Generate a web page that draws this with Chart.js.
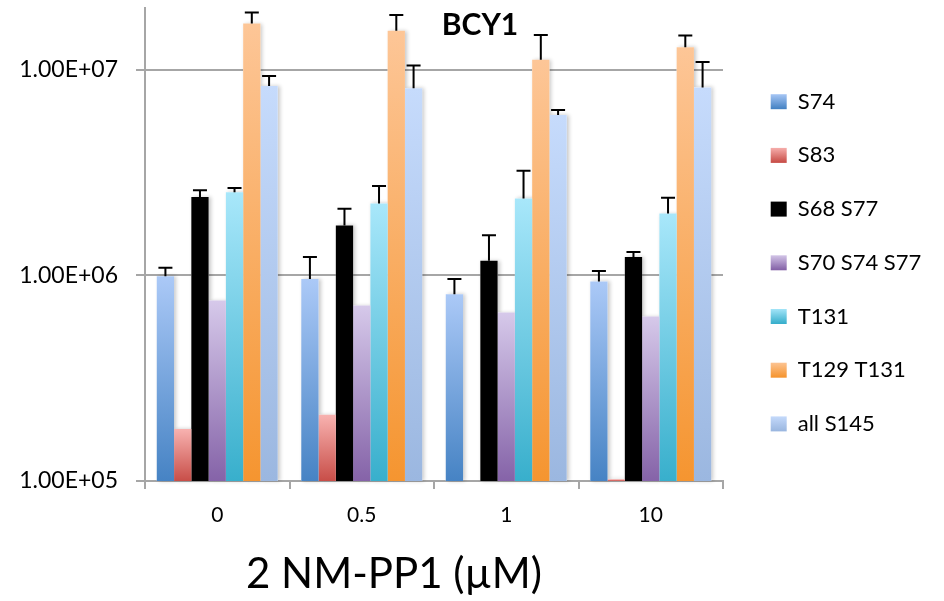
<!DOCTYPE html>
<html>
<head>
<meta charset="utf-8">
<script src="https://cdn.jsdelivr.net/npm/chart.js@4"></script>
<style>
  html, body { margin: 0; padding: 0; background: #fff; }
  #wrap { width: 944px; height: 601px; }
</style>
</head>
<body>
<div id="wrap"><canvas id="chart" width="944" height="601"></canvas></div>
<script>
const doses = ["0", "0.5", "1", "10"];
const seriesNames = ["S74", "S83", "S68 S77", "S70 S74 S77", "T131", "T129 T131", "all S145"];

// mean signal per dose
const s74 = [9.9e5, 9.6e5, 8.1e5, 9.35e5];
const s83 = [1.79e5, 2.1e5, null, 1.02e5];
const s68s77 = [2.41e6, 1.75e6, 1.18e6, 1.23e6];
const s70s74s77 = [7.55e5, 7.14e5, 6.6e5, 6.31e5];
const t131 = [2.54e6, 2.24e6, 2.37e6, 2.0e6];
const t129t131 = [1.68e7, 1.55e7, 1.12e7, 1.29e7];
const allS145 = [8.35e6, 8.15e6, 6.03e6, 8.22e6];

// upper error (added on top of the bar)
const s74Err = [1.0e5, 2.7e5, 1.5e5, 1.15e5];
const s83Err = [null, null, null, null];
const s68s77Err = [1.9e5, 3.6e5, 3.9e5, 7e4];
const s70s74s77Err = [null, null, null, null];
const t131Err = [1.2e5, 4.8e5, 8.6e5, 3.9e5];
const t129t131Err = [2.2e6, 3.0e6, 3.6e6, 1.8e6];
const allS145Err = [1.0e6, 2.35e6, 3.5e5, 2.7e6];

const yTickValues = [1e5, 1e6, 1e7];
const yTickLabels = ["1.00E+05", "1.00E+06", "1.00E+07"];

const values = [s74, s83, s68s77, s70s74s77, t131, t129t131, allS145];
const errors = [s74Err, s83Err, s68s77Err, s70s74s77Err, t131Err, t129t131Err, allS145Err];
const colorsTop = ["#abc9f7", "#f8b2b0", "#000000", "#d6c9ea", "#a8e7fa", "#fdc697", "#c6dbfc"];
const colorsBottom = ["#4683c4", "#c84e48", "#000000", "#8563a8", "#38afcc", "#f59530", "#9bb7e0"];
const colorsMid = ["#78a6de", "#e0807c", "#000000", "#ad96c9", "#70cbe3", "#f9ad63", "#b0c9ee"];

function barFill(i) {
  return function (ctx) {
    const chart = ctx.chart;
    const area = chart.chartArea;
    if (!area || ctx.type !== "data" || ctx.raw == null || i === 2) return colorsMid[i];
    const top = chart.scales.y.getPixelForValue(ctx.raw);
    if (!isFinite(top) || top >= area.bottom) return colorsMid[i];
    const g = chart.ctx.createLinearGradient(0, top, 0, area.bottom);
    g.addColorStop(0, colorsTop[i]);
    g.addColorStop(1, colorsBottom[i]);
    return g;
  };
}

const datasets = seriesNames.map((name, i) => ({
  label: name,
  data: values[i],
  backgroundColor: barFill(i),
  borderWidth: 0,
  categoryPercentage: 0.837,
  barPercentage: 1
}));

const FONT = "Lato, 'Open Sans', sans-serif";
const LEG_ROW = 53.7;

const extras = {
  id: "extras",
  beforeLayout(chart) {
    const lg = chart.legend;
    if (lg && !lg._fixed) {
      const fit = lg.fit;
      lg.fit = function () { fit.call(this); this.width = 205; };
      lg._fixed = true;
    }
  },
  // soft drop shadow behind the bars, like the old Excel style
  beforeDatasetsDraw(chart) {
    const ctx = chart.ctx;
    ctx.save();
    ctx.fillStyle = "#fff";
    ctx.shadowColor = "rgba(0,0,0,0.22)";
    ctx.shadowBlur = 4;
    ctx.shadowOffsetX = 2;
    ctx.shadowOffsetY = 0;
    chart.data.datasets.forEach((ds, i) => {
      chart.getDatasetMeta(i).data.forEach((bar, j) => {
        if (values[i][j] == null) return;
        const { x, y, base, width } = bar.getProps(["x", "y", "base", "width"], true);
        if (base - y < 1) return;
        ctx.fillRect(x - width / 2, y, width, base - y);
      });
    });
    ctx.restore();
  },
  afterDatasetsDraw(chart) {
    const ctx = chart.ctx;
    const y = chart.scales.y;
    ctx.save();
    ctx.strokeStyle = "#000";
    ctx.lineWidth = 2;
    errors.forEach((errs, i) => {
      const meta = chart.getDatasetMeta(i);
      meta.data.forEach((bar, j) => {
        const e = errs[j];
        const v = values[i][j];
        if (e == null || v == null) return;
        const yt = y.getPixelForValue(v + e);
        ctx.beginPath();
        ctx.moveTo(bar.x, bar.y);
        ctx.lineTo(bar.x, yt);
        ctx.moveTo(bar.x - 7, yt);
        ctx.lineTo(bar.x + 7, yt);
        ctx.stroke();
      });
    });
    ctx.restore();
  },
  afterDraw(chart) {
    const ctx = chart.ctx;
    ctx.save();
    ctx.fillStyle = "#000";
    ctx.textAlign = "center";
    ctx.textBaseline = "alphabetic";
    ctx.font = "bold 30px " + FONT;
    ctx.fillText("BCY1", 480, 35);
    ctx.font = "42px " + FONT;
    ctx.fillText("2 NM-PP1 (\u00b5M)", 394, 588);
    ctx.restore();
  }
};

new Chart(document.getElementById("chart"), {
  type: "bar",
  data: { labels: doses, datasets: datasets },
  plugins: [extras],
  options: {
    responsive: false,
    animation: false,
    layout: { padding: { top: 8, left: 0, right: 0, bottom: 0 } },
    plugins: {
      tooltip: { enabled: false },
      title: { display: false },
      legend: {
        position: "right",
        align: "start",
        title: { display: true, text: " ", font: { size: 10 }, padding: { top: 39, bottom: 0 } },
        labels: {
          boxWidth: 16,
          boxHeight: 15,
          padding: LEG_ROW - 22,
          color: "#000",
          font: { family: FONT, size: 22 },
          generateLabels(chart) {
            const items = Chart.defaults.plugins.legend.labels.generateLabels(chart);
            items.forEach((it, i) => {
              if (i === 2) { it.fillStyle = "#000"; return; }
              const y0 = 101 - 7.5 + LEG_ROW * i;
              const g = chart.ctx.createLinearGradient(0, y0, 0, y0 + 15);
              g.addColorStop(0, colorsTop[i]);
              g.addColorStop(1, colorsBottom[i]);
              it.fillStyle = g;
            });
            return items;
          }
        }
      }
    },
    scales: {
      x: {
        grid: { display: true, drawOnChartArea: false, offset: true, tickLength: 8, color: "#a6a6a6", lineWidth: 2 },
        border: { color: "#a6a6a6", width: 2 },
        ticks: { color: "#000", padding: 14, font: { family: FONT, size: 21 } },
        afterFit(scale) { scale.height = 120; scale.paddingLeft = 0; scale.paddingRight = 0; }
      },
      y: {
        type: "logarithmic",
        min: 1e5,
        max: 2e7,
        afterBuildTicks(scale) { scale.ticks = yTickValues.map(v => ({ value: v })); },
        grid: { color: "#a6a6a6", lineWidth: 2, tickLength: 9 },
        border: { color: "#a6a6a6", width: 2 },
        ticks: {
          color: "#000",
          padding: 18,
          font: { family: FONT, size: 23 },
          callback: (v) => yTickLabels[yTickValues.indexOf(v)]
        },
        afterFit(scale) { scale.width = 145; scale.paddingTop = 0; scale.paddingBottom = 0; }
      },
      spacer: {
        type: "linear",
        position: "right",
        display: true,
        grid: { display: false },
        border: { display: false },
        ticks: { display: false },
        afterFit(scale) { scale.width = 16; scale.paddingTop = 0; scale.paddingBottom = 0; }
      }
    }
  }
});
</script>
</body>
</html>
